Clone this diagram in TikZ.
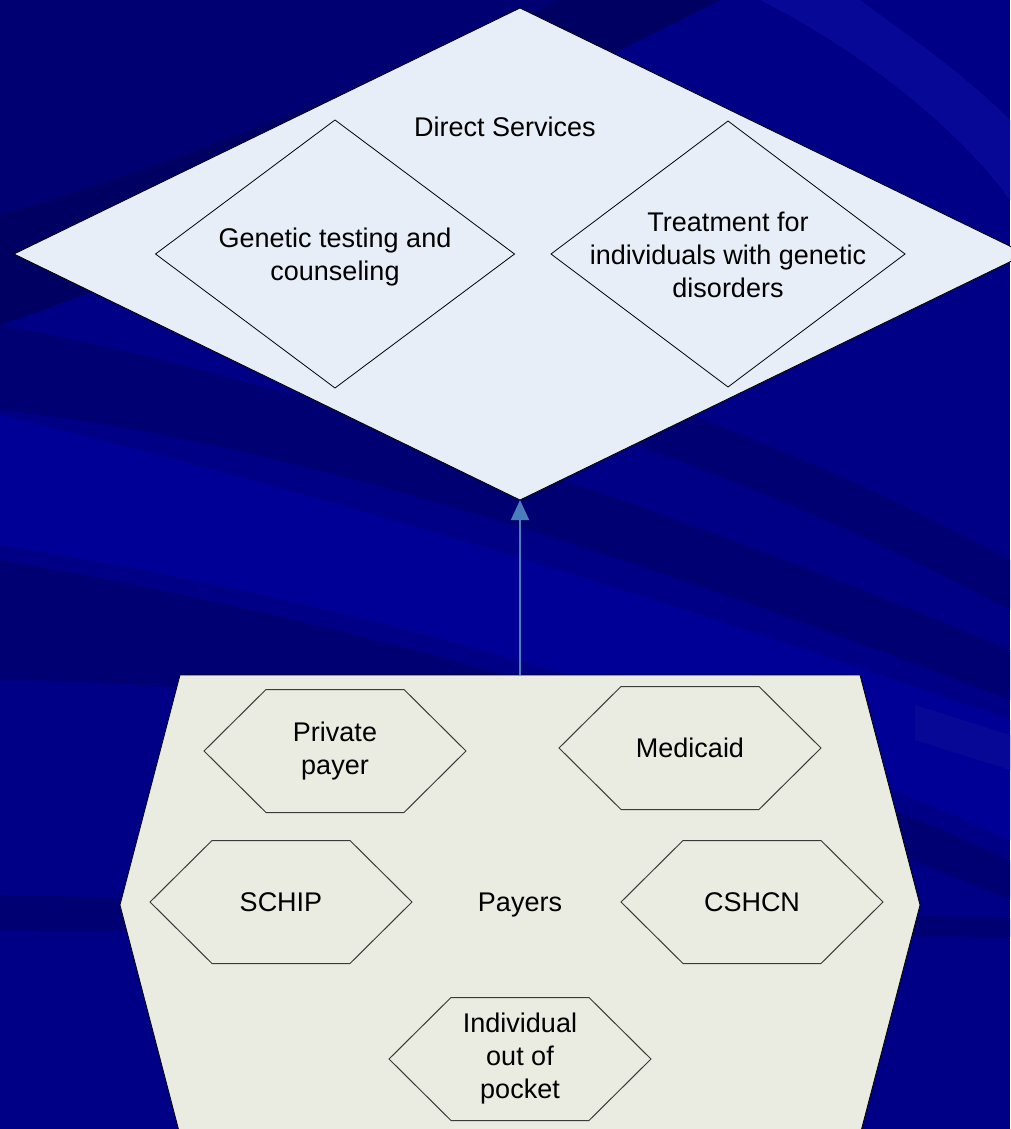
\documentclass[tikz,border=0pt]{standalone}
\usepackage{fontspec}
\setmainfont{Liberation Sans}
\usetikzlibrary{shapes.geometric,arrows.meta,backgrounds}
\definecolor{bgbase}{HTML}{000086}
\definecolor{bgdark}{HTML}{000062}
\definecolor{bgmid}{HTML}{000072}
\definecolor{bglight}{HTML}{000096}
\definecolor{bgstreak}{HTML}{080896}
\definecolor{dsfill}{HTML}{E8EEF8}
\definecolor{payfill}{HTML}{EBECE1}
\definecolor{hexdraw}{HTML}{3A3A3A}
\definecolor{arrowblue}{HTML}{4A7EBB}
\newcommand\mkhex[3]{\path[#3] (#1.north west) -- (#1.north east) -- ([xshift=#2]#1.east) -- (#1.south east) -- (#1.south west) -- ([xshift=-#2]#1.west) -- cycle;}
\begin{document}
\begin{tikzpicture}[x=1pt,y=-1pt,
  dia/.style={diamond, draw=black, line width=0.8pt, fill=dsfill, inner sep=0pt, outer sep=0pt},
  txt/.style={inner sep=0pt, align=center, font=\fontsize{27}{33}\selectfont},
  desc/.style={yshift=-3pt},
  hexbox/.style={rectangle, inner sep=0pt, outer sep=0pt, minimum width=138pt, minimum height=123pt, align=center, font=\fontsize{27}{33}\selectfont},
  bighex/.style={draw=black, line width=0.8pt, fill=payfill},
  smallhex/.style={draw=hexdraw, line width=1pt, fill=payfill},
  flow/.style={-{Triangle[width=18pt,length=20pt]}, draw=arrowblue, line width=1.6pt}]
\useasboundingbox (0,0) rectangle (1010,1129);

% Direct services
\node[dia, minimum width=1012pt, minimum height=492pt] (ds) at (520,254) {};
\node[dia, minimum width=359pt, minimum height=268pt] (gen) at (335,254) {};
\node[dia, minimum width=354pt, minimum height=266pt] (treat) at (728,254) {};
\node[txt] (dstxt) at (505,127) {Direct Services};
\node[txt, desc] (gentxt) at (gen.center) {Genetic testing and\\counseling};
\node[txt, yshift=-1pt] (treattxt) at (treat.center) {Treatment for\\individuals with genetic\\disorders};

% Payers
\node[rectangle, inner sep=0pt, outer sep=0pt, minimum width=680pt, minimum height=460pt, font=\fontsize{27}{33}\selectfont, desc] (payers) at (520,902) {Payers};
\node[hexbox, desc] (priv) at (335,748) {Private\\payer};
\node[hexbox] (medi) at (690,748) {Medicaid};
\node[hexbox] (schip) at (281,902) {SCHIP};
\node[hexbox] (cshcn) at (752,902) {CSHCN};
\node[hexbox, desc] (indiv) at (520,1056) {Individual\\out of\\pocket};

\begin{pgfonlayer}{background}
  \fill[bgbase] (0,0) rectangle (1010,1129);
  \fill[bgdark] (0,0) -- (720,0) .. controls (460,130) and (220,250) .. (0,325) -- cycle;
  \fill[bgmid] (0,0) -- (560,0) .. controls (360,90) and (160,170) .. (0,215) -- cycle;
  \fill[bgmid] (0,325) .. controls (300,380) and (700,520) .. (1010,650) -- (1010,700) .. controls (700,580) and (300,440) .. (0,410) -- cycle;
  \fill[bglight] (0,415) .. controls (350,500) and (700,610) .. (1010,720) -- (1010,840) .. controls (700,700) and (350,600) .. (0,545) -- cycle;
  \fill[bgmid] (0,560) .. controls (350,620) and (700,720) .. (1010,860) -- (1010,900) .. controls (700,770) and (350,680) .. (0,680) -- cycle;
  \fill[bgmid] (560,420) .. controls (720,470) and (880,540) .. (1010,610) -- (1010,560) .. controls (880,490) and (740,430) .. (620,390) -- cycle;
  \fill[bgstreak] (760,0) .. controls (860,50) and (960,130) .. (1010,200) -- (1010,120) .. controls (960,70) and (900,30) .. (860,0) -- cycle;
  \fill[bgmid] (0,895) -- (1010,918) -- (1010,937) -- (0,930) -- cycle;
  \fill[bgstreak] (915,705) -- (1010,735) -- (1010,770) -- (915,740) -- cycle;
  \mkhex{payers}{60pt}{bighex}
  \mkhex{priv}{62pt}{smallhex}
  \mkhex{medi}{62pt}{smallhex}
  \mkhex{schip}{62pt}{smallhex}
  \mkhex{cshcn}{62pt}{smallhex}
  \mkhex{indiv}{62pt}{smallhex}
\end{pgfonlayer}

\draw[flow] (payers.north) -- (ds.south);
\end{tikzpicture}
\end{document}
